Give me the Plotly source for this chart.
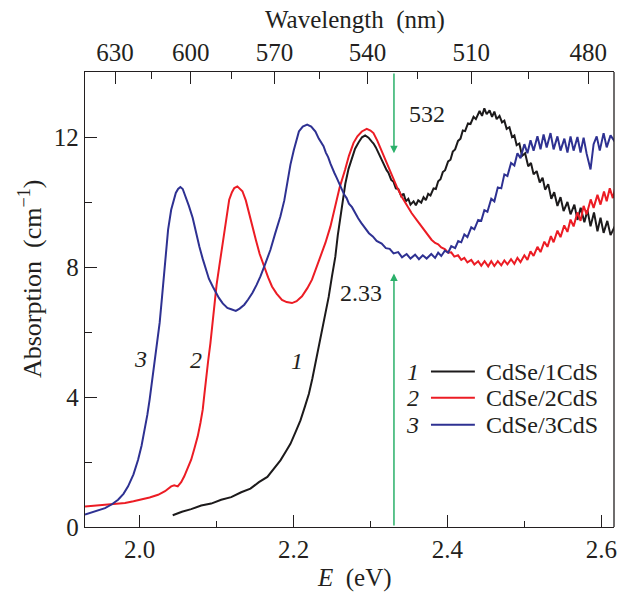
import plotly.graph_objects as go

# Photon energy <-> wavelength conversion constant (eV*nm)
HC = 1239.84

# ---- absorption spectra: energy (eV) and absorption (cm^-1) ----
E1 = [2.043, 2.055, 2.067, 2.080, 2.093, 2.106, 2.119, 2.132, 2.144, 2.155, 2.166, 2.175,
      2.183, 2.190, 2.196, 2.203, 2.209, 2.215, 2.220, 2.2245, 2.2285, 2.233, 2.237, 2.2415,
      2.2457, 2.250, 2.2543, 2.2575, 2.2608, 2.264, 2.2673, 2.2715, 2.2759, 2.280, 2.2845,
      2.289, 2.2931, 2.2975, 2.3017, 2.304, 2.307, 2.310, 2.3126, 2.315, 2.318, 2.321, 2.3233,
      2.327, 2.330, 2.333, 2.3362, 2.340, 2.343, 2.346, 2.3492, 2.352, 2.356, 2.359, 2.3621,
      2.366, 2.369, 2.372, 2.375, 2.378, 2.382, 2.385, 2.388, 2.391, 2.394, 2.397, 2.4009,
      2.404, 2.407, 2.410, 2.4138, 2.417, 2.420, 2.423, 2.4267, 2.430, 2.434, 2.437, 2.4418,
      2.445, 2.448, 2.451, 2.4548, 2.458, 2.461, 2.464, 2.4677, 2.471, 2.474, 2.477, 2.4806,
      2.484, 2.487, 2.490, 2.4935, 2.497, 2.501, 2.505, 2.5086, 2.512, 2.516, 2.520, 2.5237,
      2.527, 2.531, 2.535, 2.5388, 2.543, 2.547, 2.551, 2.556, 2.560, 2.565, 2.569, 2.5732,
      2.578, 2.582, 2.586, 2.5905, 2.595, 2.599, 2.603, 2.6078, 2.612, 2.6185]
A1 = [0.36, 0.47, 0.55, 0.66, 0.72, 0.84, 0.92, 1.07, 1.18, 1.38, 1.54, 1.80,
      2.05, 2.32, 2.56, 2.94, 3.28, 3.72, 4.10, 4.57, 5.03, 5.57, 6.05, 6.57,
      7.08, 7.72, 8.31, 8.97, 9.54, 10.12, 10.56, 11.02, 11.33, 11.64, 11.83,
      11.99, 12.05, 11.98, 11.86, 11.80, 11.68, 11.52, 11.42, 11.30, 11.15, 10.98, 10.90,
      10.68, 10.62, 10.42, 10.40, 10.18, 10.26, 10.02, 10.10, 9.92, 10.02, 9.90, 10.05,
      9.98, 10.15, 10.06, 10.25, 10.20, 10.42, 10.40, 10.64, 10.70, 10.92, 10.98, 11.25,
      11.30, 11.55, 11.62, 11.88, 11.95, 12.20, 12.18, 12.42, 12.40, 12.62, 12.55, 12.80,
      12.65, 12.88, 12.70, 12.82, 12.62, 12.78, 12.55, 12.65, 12.45, 12.50, 12.25, 12.30,
      12.00, 12.05, 11.75, 11.80, 11.42, 11.50, 11.10, 11.20, 10.85, 10.95, 10.60, 10.75,
      10.38, 10.55, 10.10, 10.30, 9.88, 10.15, 9.72, 10.00, 9.62, 9.92, 9.45, 9.82,
      9.38, 9.75, 9.25, 9.68, 9.10, 9.52, 9.05, 9.42, 8.98, 9.30]

E2 = [1.929, 1.942, 1.955, 1.968, 1.981, 1.992, 2.002, 2.013, 2.024, 2.033, 2.041, 2.045,
      2.0495, 2.054, 2.058, 2.062, 2.067, 2.071, 2.0755, 2.079, 2.082, 2.084, 2.086, 2.089,
      2.092, 2.0945, 2.097, 2.100, 2.1035, 2.107, 2.110, 2.113, 2.1164, 2.120, 2.123, 2.127,
      2.130, 2.1336, 2.138, 2.142, 2.146, 2.151, 2.156, 2.1616, 2.167, 2.172, 2.178, 2.185,
      2.191, 2.198, 2.204, 2.211, 2.218, 2.224, 2.230, 2.236, 2.2414, 2.248, 2.254, 2.260,
      2.267, 2.272, 2.278, 2.283, 2.2888, 2.2952, 2.300, 2.3039, 2.309, 2.3146, 2.321,
      2.3276, 2.334, 2.3405, 2.347, 2.3534, 2.360, 2.3664, 2.373, 2.3793, 2.384, 2.388,
      2.392, 2.3966, 2.401, 2.405, 2.409, 2.4138, 2.418, 2.422, 2.426, 2.431, 2.435, 2.440,
      2.444, 2.4483, 2.453, 2.457, 2.461, 2.4655, 2.470, 2.474, 2.478, 2.4827, 2.487, 2.491,
      2.495, 2.500, 2.504, 2.508, 2.512, 2.517, 2.521, 2.526, 2.530, 2.5345, 2.538, 2.543,
      2.547, 2.5518, 2.556, 2.560, 2.564, 2.569, 2.573, 2.577, 2.581, 2.5862, 2.590, 2.595,
      2.599, 2.6035, 2.607, 2.611, 2.615, 2.6185]
A2 = [0.63, 0.66, 0.69, 0.71, 0.74, 0.79, 0.84, 0.91, 0.99, 1.10, 1.25, 1.28,
      1.25, 1.38, 1.56, 1.78, 2.07, 2.40, 2.79, 3.20, 3.61, 4.05, 4.53, 5.10,
      5.66, 6.28, 6.89, 7.45, 8.02, 8.60, 9.15, 9.65, 10.07, 10.30, 10.43, 10.48,
      10.42, 10.33, 10.05, 9.66, 9.25, 8.84, 8.40, 8.02, 7.68, 7.40, 7.18, 6.99,
      6.92, 6.89, 6.95, 7.10, 7.35, 7.61, 8.00, 8.40, 8.74, 9.25, 9.86, 10.45,
      10.99, 11.42, 11.82, 12.02, 12.17, 12.25, 12.20, 12.12, 11.88, 11.56, 11.18,
      10.79, 10.48, 10.17, 9.90, 9.66, 9.45, 9.25, 9.05, 8.84, 8.74, 8.70,
      8.60, 8.55, 8.44, 8.45, 8.32, 8.36, 8.22, 8.28, 8.14, 8.22, 8.08, 8.18,
      8.04, 8.18, 8.02, 8.18, 8.03, 8.18, 8.05, 8.20, 8.08, 8.24, 8.10, 8.28,
      8.15, 8.36, 8.22, 8.48, 8.34, 8.62, 8.46, 8.78, 8.62, 8.95, 8.76, 9.12,
      8.92, 9.28, 9.08, 9.46, 9.25, 9.68, 9.42, 9.88, 9.62, 10.08, 9.82, 10.22,
      9.92, 10.32, 10.02, 10.42, 10.12, 10.48]

E3 = [1.929, 1.942, 1.955, 1.964, 1.972, 1.979, 1.985, 1.992, 1.998, 2.0025, 2.0065, 2.010,
      2.013, 2.016, 2.019, 2.0225, 2.026, 2.029, 2.032, 2.0345, 2.037, 2.041, 2.044, 2.047,
      2.050, 2.053, 2.056, 2.060, 2.064, 2.069, 2.073, 2.0776, 2.082, 2.086, 2.090, 2.095,
      2.099, 2.103, 2.108, 2.114, 2.119, 2.125, 2.130, 2.136, 2.141, 2.1465, 2.152, 2.157,
      2.163, 2.170, 2.176, 2.183, 2.188, 2.192, 2.196, 2.2004, 2.204, 2.207, 2.212, 2.2177,
      2.223, 2.2285, 2.2328, 2.236, 2.239, 2.242, 2.245, 2.248, 2.250, 2.253, 2.256, 2.259,
      2.263, 2.266, 2.269, 2.272, 2.276, 2.280, 2.284, 2.288, 2.293, 2.298, 2.303, 2.308,
      2.3146, 2.320, 2.325, 2.330, 2.336, 2.341, 2.347, 2.352, 2.358, 2.363, 2.368, 2.373,
      2.379, 2.384, 2.388, 2.392, 2.3966, 2.401, 2.405, 2.410, 2.414, 2.418, 2.422, 2.426,
      2.431, 2.435, 2.440, 2.444, 2.448, 2.452, 2.457, 2.461, 2.4655, 2.470, 2.474, 2.478,
      2.4827, 2.487, 2.491, 2.495, 2.500, 2.504, 2.508, 2.512, 2.517, 2.521, 2.525, 2.529,
      2.534, 2.538, 2.543, 2.547, 2.552, 2.556, 2.560, 2.564, 2.569, 2.573, 2.577, 2.581,
      2.586, 2.590, 2.594, 2.598, 2.603, 2.607, 2.612, 2.6185]
A3 = [0.38, 0.47, 0.58, 0.70, 0.84, 1.02, 1.25, 1.62, 2.07, 2.50, 2.99, 3.45,
      3.92, 4.50, 5.05, 5.65, 6.28, 7.05, 7.82, 8.50, 9.15, 9.76, 10.05, 10.28,
      10.40, 10.46, 10.40, 10.17, 9.88, 9.51, 9.08, 8.63, 8.25, 7.92, 7.64, 7.40,
      7.20, 7.05, 6.88, 6.74, 6.70, 6.65, 6.72, 6.84, 7.00, 7.20, 7.45, 7.71,
      8.08, 8.53, 9.02, 9.56, 10.05, 10.58, 11.15, 11.60, 11.95, 12.17, 12.32, 12.38,
      12.32, 12.17, 11.95, 11.82, 11.72, 11.52, 11.38, 11.18, 11.05, 10.90, 10.75, 10.58,
      10.40, 10.22, 10.12, 9.95, 9.84, 9.66, 9.50, 9.36, 9.18, 9.04, 8.94, 8.80,
      8.72, 8.58, 8.56, 8.42, 8.46, 8.30, 8.40, 8.26, 8.38, 8.24, 8.36, 8.26,
      8.40, 8.28, 8.44, 8.34, 8.50, 8.44, 8.64, 8.58, 8.80, 8.76, 9.00, 8.92,
      9.22, 9.16, 9.45, 9.42, 9.75, 9.70, 10.10, 10.02, 10.45, 10.42, 10.85, 10.80,
      11.20, 11.12, 11.50, 11.35, 11.78, 11.50, 11.90, 11.58, 12.02, 11.62, 12.08, 11.68,
      12.12, 11.62, 12.02, 11.58, 11.95, 11.52, 12.02, 11.58, 12.00, 11.52, 11.98, 11.48,
      11.00, 11.78, 12.02, 11.58, 12.12, 11.68, 12.05, 11.82]

SERIES_NUM = ["1", "2", "3"]
SERIES_NAME = ["CdSe/1CdS", "CdSe/2CdS", "CdSe/3CdS"]
SERIES_COLOR = ["#1c1a1b", "#ec1c24", "#2e3192"]
SERIES_E = [E1, E2, E3]
SERIES_A = [A1, A2, A3]
# where the italic curve numbers sit (E, absorption)
CURVE_LABEL_POS = [(2.205, 5.1), (2.073, 5.15), (2.001, 5.17)]

# excitation line
LASER_NM = 532
LASER_E = HC / LASER_NM

# axes
E_RANGE = [1.929, 2.6165]
A_RANGE = [0, 14.0]
WL_MAJOR = [630, 600, 570, 540, 510, 480]
WL_MINOR = [615, 585, 555, 525, 495]

FONT = "Liberation Serif"
INK = "#231f20"
GREEN = "#2bb06a"
GAP = "\u00a0 "  # wide word gap used in the axis titles

fig = go.Figure()
for num, name, col, E, A in zip(SERIES_NUM, SERIES_NAME, SERIES_COLOR, SERIES_E, SERIES_A):
    fig.add_trace(go.Scatter(x=E, y=A, mode="lines", name=name,
                             line=dict(color=col, width=2.0), showlegend=False))

# invisible trace to carry the wavelength axis on top
fig.add_trace(go.Scatter(x=E_RANGE, y=[None, None], xaxis="x2", mode="lines",
                         showlegend=False, hoverinfo="skip"))

axis_common = dict(showline=True, linecolor=INK, linewidth=1.3, ticks="inside",
                   tickcolor=INK, tickwidth=1.2, ticklen=12, showgrid=False,
                   zeroline=False, tickfont=dict(family=FONT, size=25, color=INK))

fig.update_layout(
    width=623, height=594,
    margin=dict(l=85, r=6, t=72, b=67),
    paper_bgcolor="white", plot_bgcolor="white",
    font=dict(family=FONT, color=INK, size=24),
    xaxis=dict(range=E_RANGE, tickvals=[2.0, 2.2, 2.4, 2.6],
               ticktext=["2.0", "2.2", "2.4", "2.6"], mirror=False,
               minor=dict(tickvals=[2.1, 2.3, 2.5], ticklen=6, ticks="inside",
                          tickcolor=INK, tickwidth=1.2),
               **axis_common),
    xaxis2=dict(range=E_RANGE, overlaying="x", side="top", anchor="y",
                tickvals=[HC / w for w in WL_MAJOR], ticktext=[str(w) for w in WL_MAJOR],
                minor=dict(tickvals=[HC / w for w in WL_MINOR], ticklen=7, ticks="inside",
                           tickcolor=INK, tickwidth=1.2),
                **axis_common),
    yaxis=dict(range=A_RANGE, tickvals=[0, 4, 8, 12], ticktext=["0", "4", "8", "12"],
               minor=dict(tickvals=[2, 6, 10], ticklen=7, ticks="inside",
                          tickcolor=INK, tickwidth=1.2),
               **axis_common),
)

# right frame edge
fig.add_shape(type="line", xref="paper", yref="paper", x0=1, x1=1, y0=0, y1=1,
              line=dict(color=INK, width=1.3))

ann = []
# axis titles
ann.append(dict(text=f"Wavelength{GAP}(nm)", xref="paper", yref="paper", x=0.51, y=1.0,
                xanchor="center", yanchor="middle", yshift=52, showarrow=False,
                font=dict(family=FONT, size=25)))
ann.append(dict(text=f"<i>E</i>{GAP}(eV)", xref="paper", yref="paper", x=0.51, y=0.0,
                xanchor="center", yanchor="middle", yshift=-51, showarrow=False,
                font=dict(family=FONT, size=25)))
ann.append(dict(text=f"Absorption{GAP}(cm<sup>\u22121</sup>)", xref="paper", yref="paper",
                x=0.0, xshift=-55, y=0.545, xanchor="center", yanchor="middle",
                textangle=-90, showarrow=False, font=dict(family=FONT, size=26)))

# curve numbers
for num, (ex, ay) in zip(SERIES_NUM, CURVE_LABEL_POS):
    ann.append(dict(text=f"<i>{num}</i>", x=ex, y=ay, xanchor="center", yanchor="middle",
                    showarrow=False, font=dict(family=FONT, size=24)))

# excitation arrows and labels
ann.append(dict(x=LASER_E, y=11.5, ax=LASER_E, ay=A_RANGE[1], axref="x", ayref="y",
                text="", showarrow=True, arrowhead=2, arrowsize=1.0, arrowwidth=1.5,
                arrowcolor=GREEN))
ann.append(dict(x=LASER_E, y=7.8, ax=LASER_E, ay=A_RANGE[0], axref="x", ayref="y",
                text="", showarrow=True, arrowhead=2, arrowsize=1.0, arrowwidth=1.5,
                arrowcolor=GREEN))
ann.append(dict(text=str(LASER_NM), x=2.373, y=12.72, xanchor="center", yanchor="middle",
                showarrow=False, font=dict(family=FONT, size=24)))
ann.append(dict(text=f"{LASER_E:.2f}", x=2.2877, y=7.2, xanchor="center", yanchor="middle",
                showarrow=False, font=dict(family=FONT, size=24)))

# legend block
LEG_Y = [0.3415, 0.284, 0.2245]
for num, name, col, ly in zip(SERIES_NUM, SERIES_NAME, SERIES_COLOR, LEG_Y):
    ann.append(dict(text=f"<i>{num}</i>", xref="paper", yref="paper", x=0.620, y=ly,
                    xanchor="center", yanchor="middle", showarrow=False,
                    font=dict(family=FONT, size=24)))
    fig.add_shape(type="line", xref="paper", yref="paper", x0=0.654, x1=0.737,
                  y0=ly, y1=ly, line=dict(color=col, width=2))
    ann.append(dict(text=name, xref="paper", yref="paper", x=0.754, y=ly, xanchor="left",
                    yanchor="middle", showarrow=False, font=dict(family=FONT, size=24)))

fig.update_layout(annotations=ann)
fig.write_html("out.html")
